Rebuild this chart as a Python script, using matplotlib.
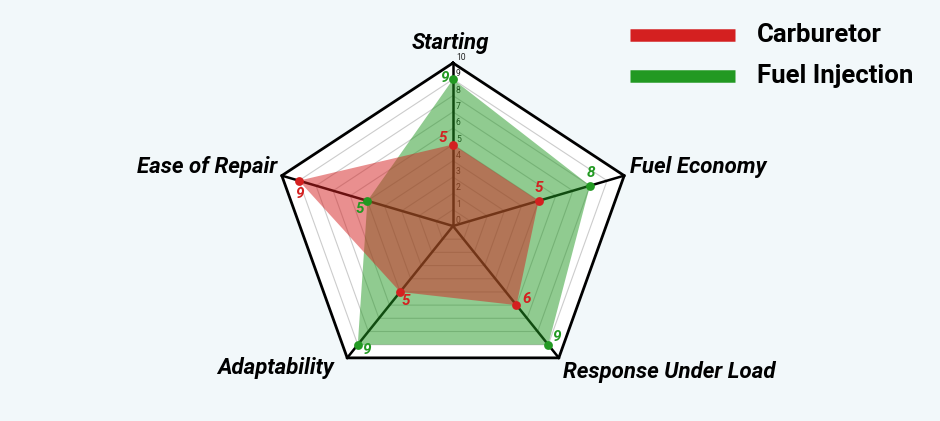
import numpy as np
import matplotlib
matplotlib.use("Agg")
import matplotlib.pyplot as plt

categories = ["Starting", "Fuel Economy", "Response Under Load", "Adaptability", "Ease of Repair"]
carburetor = [5, 5, 6, 5, 9]
fuel_injection = [9, 8, 9, 9, 5]
series_names = ["Carburetor", "Fuel Injection"]
ticks = list(range(0, 11))

RED = "#d42020"
GREEN = "#229922"
BG = "#f2f8fa"

W, H = 940, 421
cx, cy = 453, 226        # pixel centre (from top)
sx, sy = 18.0, 16.3      # pixels per unit

fig = plt.figure(figsize=(W / 100, H / 100), dpi=100, facecolor=BG)
ax = fig.add_axes([0, 0, 1, 1])
ax.set_facecolor(BG)
ax.set_xlim(-cx / sx, (W - cx) / sx)
ax.set_ylim(-(H - cy) / sy, cy / sy)
ax.axis("off")

n = len(categories)
theta = np.arange(n) * 2 * np.pi / n
ux, uy = np.sin(theta), np.cos(theta)

def poly(vals):
    v = np.asarray(vals, float)
    return np.append(v * ux, v[0] * ux[0]), np.append(v * uy, v[0] * uy[0])

# white background of the web
ox, oy = poly([10] * n)
ax.fill(ox, oy, color="white", zorder=1)
# grid rings
for t in ticks[1:-1]:
    gx, gy = poly([t] * n)
    ax.plot(gx, gy, color="#cccccc", lw=0.8, zorder=2)
ax.plot(ox, oy, color="black", lw=2, zorder=6, solid_joinstyle="miter")
# spokes
for i in range(n):
    ax.plot([0, 10 * ux[i]], [0, 10 * uy[i]], color="black", lw=1.8, zorder=3)
# tick labels
for t in ticks:
    ax.annotate(str(t), (0, t), xytext=(3, 1), textcoords="offset pixels",
                fontsize=6.2, color="#222222", ha="left", va="bottom",
                family="Roboto", zorder=3)

# series fills
for vals, col in [(fuel_injection, GREEN), (carburetor, RED)]:
    px, py = poly(vals)
    ax.fill(px, py, color=col, alpha=0.5, lw=0, zorder=4)

for vals, col in [(fuel_injection, GREEN), (carburetor, RED)]:
    v = np.asarray(vals, float)
    ax.scatter(v * ux, v * uy, s=40, color=col, zorder=7, linewidths=0)

# value label offsets (pixels)
offs_car = [(-10, 7), (0, 13), (10, 6), (6, -9), (0, -13)]
offs_fi = [(-9, 1), (1, 13), (8, 8), (9, -5), (-8, -8)]
for vals, col, offs in [(carburetor, RED, offs_car), (fuel_injection, GREEN, offs_fi)]:
    for i, v in enumerate(vals):
        ax.annotate(str(v), (v * ux[i], v * uy[i]), xytext=offs[i], textcoords="offset pixels",
                    ha="center", va="center", fontsize=11, color=col,
                    fontweight="bold", fontstyle="italic", family="Roboto", zorder=8)

# axis labels (pixel positions)
lab_pos = [(450, 43, "center"), (630, 167, "left"), (563, 372, "left"),
           (334, 368, "right"), (277, 167, "right")]
for (x, y, ha), lab in zip(lab_pos, categories):
    ax.text(x / W, 1 - y / H, lab, transform=fig.transFigure, ha=ha, va="center",
            fontsize=16, fontweight="bold", fontstyle="italic", family="Roboto", color="black")

# legend
for (y, col), name in zip([(35, RED), (76, GREEN)], series_names):
    fig.add_artist(plt.Line2D([630 / W, 735 / W], [1 - y / H, 1 - y / H], color=col, lw=9,
                              solid_capstyle="butt", transform=fig.transFigure))
    fig.text(757 / W, 1 - y / H, name, ha="left", va="center", fontsize=18.5,
             fontweight="bold", family="Roboto", color="black")

fig.savefig("out.png", dpi=100, facecolor=BG)
